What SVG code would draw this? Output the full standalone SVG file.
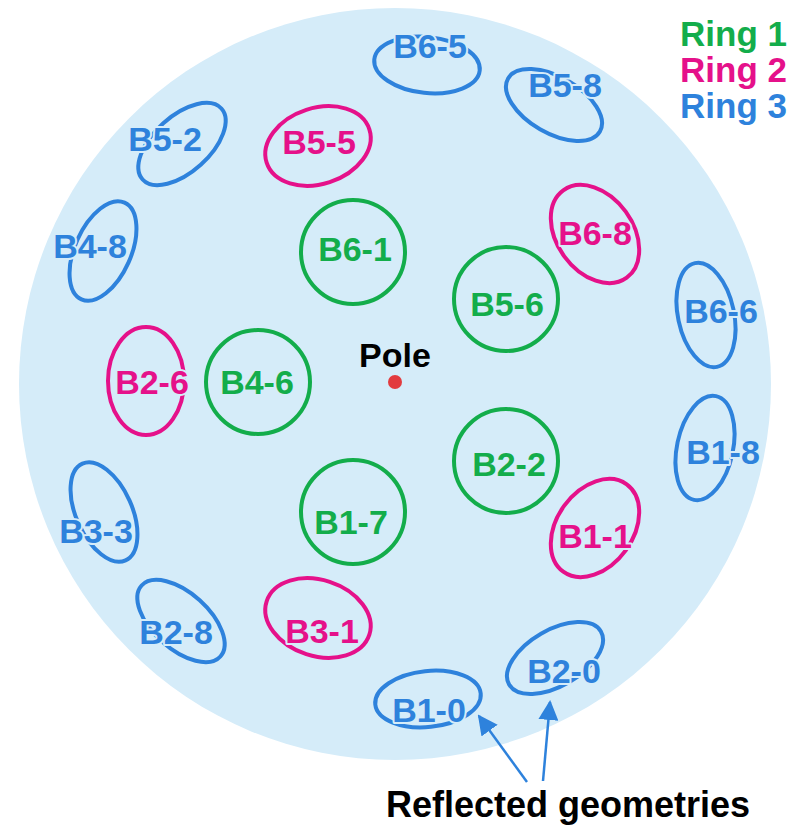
<svg xmlns="http://www.w3.org/2000/svg" width="796" height="825" viewBox="0 0 796 825">
  <defs>
    <style>
      .lbl { font-family: "Liberation Sans", Arial, Helvetica, sans-serif; font-weight: bold; font-size: 34px; text-anchor: middle; }
      .halo { paint-order: stroke; stroke: #d5ecf9; stroke-width: 4px; stroke-linejoin: round; }
      .r1 { fill: none; stroke: #13ad4b; stroke-width: 4; }
      .r2 { fill: none; stroke: #e5118a; stroke-width: 4; }
      .r3 { fill: none; stroke: #2e82dc; stroke-width: 4; }
      .t1 { fill: #13ad4b; }
      .t2 { fill: #e5118a; }
      .t3 { fill: #2e82dc; }
      .legend { font-family: "Liberation Sans", Arial, Helvetica, sans-serif; font-weight: bold; font-size: 35px; text-anchor: end; }
      .arrow { stroke: #2e82dc; stroke-width: 2.5; fill: none; }
    </style>
    <marker id="head" viewBox="0 0 10 10" refX="9" refY="5" markerWidth="8" markerHeight="8" markerUnits="strokeWidth" orient="auto">
      <path d="M0,0 L10,5 L0,10 Z" fill="#2e82dc"/>
    </marker>
  </defs>

  <!-- sky disc -->
  <circle id="disc" cx="395" cy="384" r="376" fill="#d5ecf9"/>

  <!-- legend -->
  <g id="legend">
    <text class="legend t1" x="787" y="46">Ring 1</text>
    <text class="legend t2" x="787" y="82">Ring 2</text>
    <text class="legend t3" x="787" y="118">Ring 3</text>
  </g>

  <!-- pole -->
  <g id="pole">
    <text class="lbl" x="395" y="367" fill="#000">Pole</text>
    <circle cx="395" cy="382" r="7" fill="#e23b3f"/>
  </g>

  <!-- ring 1 -->
  <g id="B4-6"><circle class="r1" cx="258" cy="382" r="52"/><text class="lbl t1" x="257" y="394">B4-6</text></g>
  <g id="B6-1"><circle class="r1" cx="353" cy="252" r="52"/><text class="lbl t1" x="355" y="261">B6-1</text></g>
  <g id="B5-6"><circle class="r1" cx="506" cy="299" r="52"/><text class="lbl t1" x="507" y="316">B5-6</text></g>
  <g id="B2-2"><circle class="r1" cx="506" cy="461" r="52"/><text class="lbl t1" x="509" y="476">B2-2</text></g>
  <g id="B1-7"><circle class="r1" cx="353" cy="512" r="52"/><text class="lbl t1" x="351" y="534">B1-7</text></g>

  <!-- ring 2 -->
  <g id="B2-6"><ellipse class="r2" cx="0" cy="0" rx="38" ry="54" transform="translate(146 381) rotate(180)"/><text class="lbl t2 halo" x="152" y="394">B2-6</text></g>
  <g id="B5-5"><ellipse class="r2" cx="0" cy="0" rx="38" ry="54" transform="translate(318 146) rotate(252)"/><text class="lbl t2 halo" x="319" y="154">B5-5</text></g>
  <g id="B6-8"><ellipse class="r2" cx="0" cy="0" rx="38" ry="54" transform="translate(595 234) rotate(324)"/><text class="lbl t2 halo" x="595" y="245">B6-8</text></g>
  <g id="B1-1"><ellipse class="r2" cx="0" cy="0" rx="38" ry="54" transform="translate(595 528) rotate(36)"/><text class="lbl t2 halo" x="595" y="548">B1-1</text></g>
  <g id="B3-1"><ellipse class="r2" cx="0" cy="0" rx="38" ry="54" transform="translate(318 618) rotate(108)"/><text class="lbl t2 halo" x="322" y="643">B3-1</text></g>

  <!-- ring 3 -->
  <g id="B6-5"><ellipse class="r3" cx="0" cy="0" rx="28" ry="53" transform="translate(427 65) rotate(276)"/><text class="lbl t3 halo" x="430" y="58">B6-5</text></g>
  <g id="B5-8"><ellipse class="r3" cx="0" cy="0" rx="28" ry="53" transform="translate(554 105) rotate(300)"/><text class="lbl t3 halo" x="565" y="97">B5-8</text></g>
  <g id="B5-2"><ellipse class="r3" cx="0" cy="0" rx="28" ry="53" transform="translate(182 144) rotate(228)"/><text class="lbl t3 halo" x="165" y="151">B5-2</text></g>
  <g id="B4-8"><ellipse class="r3" cx="0" cy="0" rx="28" ry="53" transform="translate(103 251) rotate(204)"/><text class="lbl t3 halo" x="90" y="258">B4-8</text></g>
  <g id="B6-6"><ellipse class="r3" cx="0" cy="0" rx="28" ry="53" transform="translate(706 315) rotate(348)"/><text class="lbl t3 halo" x="721" y="323">B6-6</text></g>
  <g id="B1-8"><ellipse class="r3" cx="0" cy="0" rx="28" ry="53" transform="translate(705 448) rotate(12)"/><text class="lbl t3 halo" x="723" y="464">B1-8</text></g>
  <g id="B3-3"><ellipse class="r3" cx="0" cy="0" rx="28" ry="53" transform="translate(104 512) rotate(156)"/><text class="lbl t3 halo" x="96" y="543">B3-3</text></g>
  <g id="B2-8"><ellipse class="r3" cx="0" cy="0" rx="28" ry="53" transform="translate(181 621) rotate(132)"/><text class="lbl t3 halo" x="176" y="644">B2-8</text></g>
  <g id="B1-0"><ellipse class="r3" cx="0" cy="0" rx="28" ry="53" transform="translate(428 699) rotate(84)"/><text class="lbl t3 halo" x="429" y="722">B1-0</text></g>
  <g id="B2-0"><ellipse class="r3" cx="0" cy="0" rx="28" ry="53" transform="translate(555 658) rotate(60)"/><text class="lbl t3 halo" x="564" y="683">B2-0</text></g>

  <!-- callout arrows -->
  <g id="connectors">
    <line class="arrow" x1="527" y1="782" x2="479" y2="716" marker-end="url(#head)"/>
    <line class="arrow" x1="543" y1="781" x2="550" y2="702" marker-end="url(#head)"/>
  </g>

  <g id="caption">
    <text x="568" y="817" font-family="'Liberation Sans', Arial, Helvetica, sans-serif" font-weight="bold" font-size="36" text-anchor="middle" fill="#000">Reflected geometries</text>
  </g>
</svg>
